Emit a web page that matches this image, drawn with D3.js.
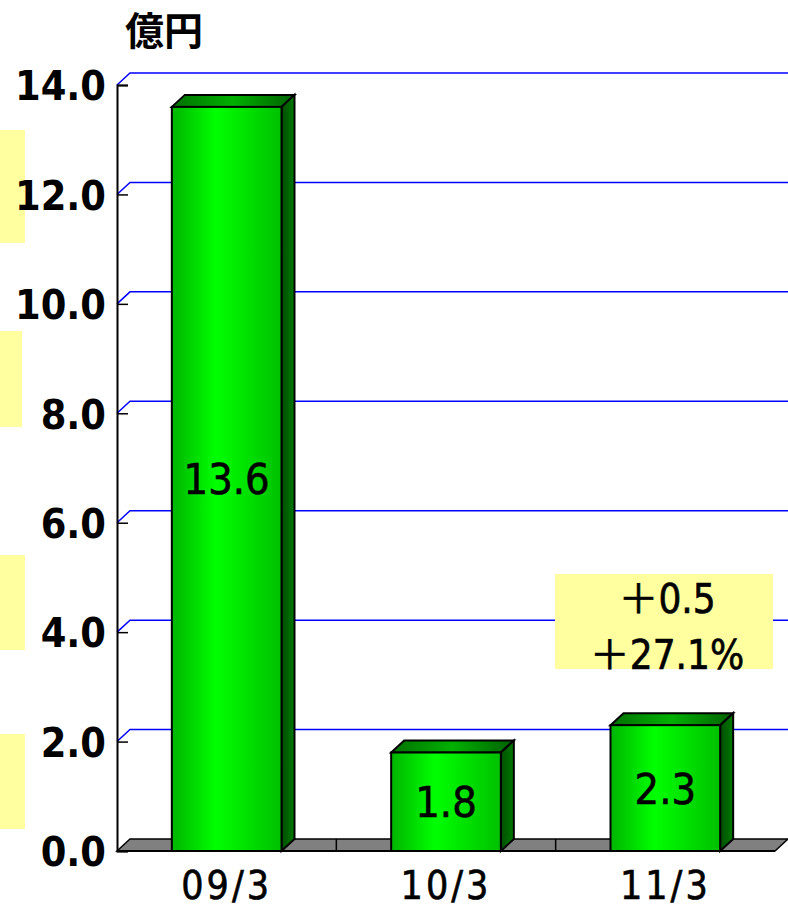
<!DOCTYPE html>
<html>
<head>
<meta charset="utf-8">
<script src="https://cdn.jsdelivr.net/npm/d3@7"></script>
<style>
  body { margin: 0; background: #fff; }
  text { font-family: "DejaVu Sans Condensed", "DejaVu Sans", "Noto Sans CJK JP", sans-serif; }
  .jp { font-family: "Noto Sans CJK JP", sans-serif; }
</style>
</head>
<body>
<div id="chart"></div>
<script>
// data
const categories = ["09/3", "10/3", "11/3"];
const values = [13.6, 1.8, 2.3];
const yTicks = [0, 2, 4, 6, 8, 10, 12, 14];
const unitLabel = "億円";
const noteLines = ["＋0.5", "＋27.1%"];

// CONSTANTS
const width = 788,
    height = 909,
    margin = { top: 85, bottom: 58, left: 117, right: 0 },
    depth = { dx: 13, dy: 12 };

const svg = d3.select("#chart")
    .append("svg")
    .attr("width", width)
    .attr("height", height);

const defs = svg.append("defs");
const frontGrad = defs.append("linearGradient").attr("id", "front");
frontGrad.append("stop").attr("offset", "0%").attr("stop-color", "#00b400");
frontGrad.append("stop").attr("offset", "40%").attr("stop-color", "#00ff00");
frontGrad.append("stop").attr("offset", "100%").attr("stop-color", "#00c000");
const sideGrad = defs.append("linearGradient").attr("id", "side");
sideGrad.append("stop").attr("offset", "0%").attr("stop-color", "#004d00");
sideGrad.append("stop").attr("offset", "100%").attr("stop-color", "#007a00");
const topGrad = defs.append("linearGradient").attr("id", "topface");
topGrad.append("stop").attr("offset", "0%").attr("stop-color", "#007000");
topGrad.append("stop").attr("offset", "50%").attr("stop-color", "#00b000");
topGrad.append("stop").attr("offset", "100%").attr("stop-color", "#006000");

// yellow highlight strips on left
const strips = [[130, 243, 25], [331, 427, 22], [555, 650, 25], [734, 829, 25]];
svg.selectAll(".strip")
    .data(strips)
    .join("rect")
    .attr("x", 0)
    .attr("y", d => d[0])
    .attr("width", d => d[2])
    .attr("height", d => d[1] - d[0])
    .attr("fill", "#ffffa0");

// SCALES
const xEnd = width - margin.right - depth.dx;
const xScale = d3.scaleBand()
    .domain(categories)
    .range([margin.left, xEnd]);

const yScale = d3.scaleLinear()
    .domain([0, 14])
    .range([height - margin.bottom, margin.top]);

const y0 = yScale(0);

// gridlines on back wall
svg.selectAll(".grid")
    .data(yTicks.filter(d => d > 0))
    .join("path")
    .attr("d", d => `M${margin.left},${yScale(d)} L${margin.left + depth.dx},${yScale(d) - depth.dy} L${width},${yScale(d) - depth.dy}`)
    .attr("fill", "none")
    .attr("stroke", "#0000ff")
    .attr("stroke-width", 1.5);

// floor
svg.append("path")
    .attr("d", `M${margin.left},${y0} L${margin.left + depth.dx},${y0 - depth.dy} L${xEnd + depth.dx},${y0 - depth.dy} L${xEnd},${y0} Z`)
    .attr("fill", "#808080")
    .attr("stroke", "#000")
    .attr("stroke-width", 1.5);

svg.selectAll(".divider")
    .data(categories.slice(1))
    .join("line")
    .attr("x1", d => xScale(d))
    .attr("x2", d => xScale(d))
    .attr("y1", y0)
    .attr("y2", y0 - depth.dy)
    .attr("stroke", "#000")
    .attr("stroke-width", 1.5);

// y axis
const yAxis = d3.axisLeft(yScale)
    .tickValues(yTicks)
    .tickSize(-11)
    .tickPadding(11)
    .tickFormat(d3.format(".1f"));

const axisG = svg.append("g")
    .attr("transform", `translate(${margin.left},0)`)
    .call(yAxis);
axisG.select(".domain").attr("stroke", "#000").attr("stroke-width", 2);
axisG.selectAll(".tick line").attr("stroke", "#000").attr("stroke-width", 1.5);
axisG.selectAll(".tick text")
    .attr("fill", "#000")
    .style("font-family", "'DejaVu Sans Condensed', sans-serif")
    .style("font-size", "41px")
    .style("font-weight", "bold")
    .attr("dy", "0.36em");

// bottom front edge
svg.append("line")
    .attr("x1", margin.left).attr("x2", xEnd)
    .attr("y1", y0).attr("y2", y0)
    .attr("stroke", "#000").attr("stroke-width", 2);

// bars
const barW = xScale.bandwidth() * 0.5;
const bars = svg.selectAll(".bar")
    .data(categories.map((c, i) => ({ c, v: values[i] })))
    .join("g")
    .attr("class", "bar");

bars.append("path")
    .attr("d", d => {
        const x = xScale(d.c) + (xScale.bandwidth() - barW) / 2, y = yScale(d.v);
        return `M${x},${y} L${x + depth.dx},${y - depth.dy} L${x + barW + depth.dx},${y - depth.dy} L${x + barW},${y} Z`;
    })
    .attr("fill", "url(#topface)").attr("stroke", "#000").attr("stroke-width", 2);

bars.append("path")
    .attr("d", d => {
        const x = xScale(d.c) + (xScale.bandwidth() - barW) / 2 + barW, y = yScale(d.v);
        return `M${x},${y} L${x + depth.dx},${y - depth.dy} L${x + depth.dx},${y0 - depth.dy} L${x},${y0} Z`;
    })
    .attr("fill", "url(#side)").attr("stroke", "#000").attr("stroke-width", 2);

bars.append("rect")
    .attr("x", d => xScale(d.c) + (xScale.bandwidth() - barW) / 2)
    .attr("y", d => yScale(d.v))
    .attr("width", barW)
    .attr("height", d => y0 - yScale(d.v))
    .attr("fill", "url(#front)").attr("stroke", "#000").attr("stroke-width", 2);

bars.append("text")
    .attr("x", d => xScale(d.c) + xScale.bandwidth() / 2)
    .attr("y", d => (yScale(d.v) + y0) / 2)
    .attr("dy", "0.36em")
    .attr("text-anchor", "middle")
    .style("font-size", "43px")
    .attr("stroke", "#000")
    .attr("stroke-width", 0.6)
    .text(d => d.v.toFixed(1));

// x labels
svg.selectAll(".xlabel")
    .data(categories)
    .join("text")
    .attr("x", d => xScale(d) + xScale.bandwidth() / 2)
    .attr("y", 899)
    .attr("text-anchor", "middle")
    .style("font-size", "39px")
    .style("letter-spacing", "3px")
    .attr("stroke", "#000")
    .attr("stroke-width", 0.6)
    .text(d => d);

// unit label
svg.append("text")
    .attr("class", "jp")
    .attr("x", 164)
    .attr("y", 45)
    .attr("text-anchor", "middle")
    .style("font-size", "39px")
    .style("font-weight", "bold")
    .text(unitLabel);

// annotation box
svg.append("rect")
    .attr("x", 555).attr("y", 574)
    .attr("width", 218).attr("height", 95)
    .attr("fill", "#ffffa0");

svg.selectAll(".note")
    .data(noteLines)
    .join("text")
    .attr("x", 667)
    .attr("y", (d, i) => 613 + i * 56)
    .attr("text-anchor", "middle")
    .style("font-size", "40px")
    .attr("stroke", "#000")
    .attr("stroke-width", 0.6)
    .text(d => d);
</script>
</body>
</html>
